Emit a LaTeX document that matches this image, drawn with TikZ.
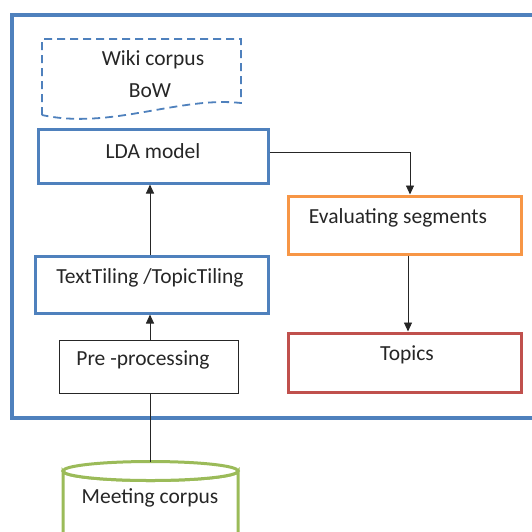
\documentclass[tikz,border=0pt]{standalone}
\usepackage{fontspec}
\setmainfont{Carlito}
\usetikzlibrary{arrows.meta}
\definecolor{frameblue}{HTML}{4F81BD}
\definecolor{evalorange}{HTML}{F79646}
\definecolor{topicred}{HTML}{C0504D}
\definecolor{corpusgreen}{HTML}{9BBB59}
\tikzset{
  box/.style={draw, fill=white, inner sep=0pt, line width=3pt},
  bluebox/.style={box, draw=frameblue},
  lbl/.style={inner sep=0pt, font=\fontsize{21.5}{26}\selectfont, text=black!85},
  flow/.style={draw=black!85, line width=0.9pt, -{Triangle[length=9pt,width=8pt]}},
  plain/.style={draw=black!85, line width=0.9pt}
}
\begin{document}
\begin{tikzpicture}[x=1pt, y=-1pt]
\useasboundingbox (0,0) rectangle (532,531);
% outer frame, running past the right edge
\draw[frameblue, line width=4pt] (12,15) rectangle (540,418);

% Wiki corpus document (dashed)
\draw[frameblue, line width=1.8pt, dash pattern=on 8pt off 5pt]
  (42,115) -- (42,39) -- (241,39) -- (241,103)
  .. controls (180,96) and (110,130) .. (42,115);
\node[lbl] (wiki) at (153,60) {Wiki corpus};
\node[lbl] (bow) at (150,91) {BoW};

% process boxes
\node[bluebox, minimum width=230pt, minimum height=54pt] (lda) at (153,156) {};
\node[lbl] (ldat) at (153,151) {LDA model};

\node[bluebox, minimum width=233pt, minimum height=57pt] (tt) at (151.5,284.5) {};
\node[lbl] (ttt) at (150,278) {TextTiling /TopicTiling};

\node[box, draw=black!85, line width=0.9pt, minimum width=179pt, minimum height=53pt] (pre) at (148.5,366.5) {};
\node[lbl] (pret) at (143,360) {Pre -processing};

\node[box, draw=evalorange, minimum width=233pt, minimum height=58pt] (eval) at (404.5,225) {};
\node[lbl] (evalt) at (398,218) {Evaluating segments};

\node[box, draw=topicred, minimum width=233pt, minimum height=59pt] (topics) at (404.5,362.5) {};
\node[lbl] (topicst) at (407,355) {Topics};

% Meeting corpus cylinder
\fill[white] (63,471) rectangle (238,545);
\draw[corpusgreen, line width=3pt] (63,545) -- (63,471) arc[start angle=180, end angle=360, x radius=87.5pt, y radius=9.5pt] -- (238,545);
\draw[corpusgreen, line width=3pt, fill=white] (150.5,471) ellipse[x radius=87.5pt, y radius=9.5pt];
\coordinate (mctop) at (150,461.5);
\node[lbl] (mct) at (150,498) {Meeting corpus};

% connectors
\coordinate (bend) at (410,152);
\draw[flow] (lda.east |- bend) -- (bend) -- (bend |- eval.north);
\draw[flow] (eval.south -| 408,0) -- (topics.north -| 408,0);
\draw[flow] (tt.north -| 150,0) -- (lda.south -| 150,0);
\draw[flow] (pre.north -| 150,0) -- (tt.south -| 150,0);
\draw[plain] (mctop) -- (pre.south -| mctop);
\end{tikzpicture}
\end{document}
